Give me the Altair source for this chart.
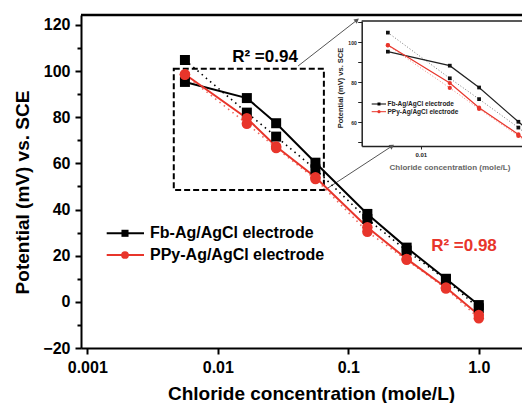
import altair as alt
import pandas as pd

# chloride concentration (mole/L) and measured potentials (mV vs. SCE)
conc = [0.0056, 0.0167, 0.028, 0.056, 0.14, 0.28, 0.56, 1.0]
fb_run1 = [95.3, 88.3, 77.4, 60.3, 38.1, 23.5, 10.0, -1.4]
fb_run2 = [104.8, 82.0, 71.6, 57.4, 35.9, 22.2, 9.6, -2.8]
ppy_run1 = [98.6, 79.6, 67.3, 54.0, 32.3, 18.6, 6.2, -5.7]
ppy_run2 = [98.4, 77.2, 66.7, 53.2, 30.4, 18.2, 5.8, -7.1]

electrodes = ["Fb-Ag/AgCl electrode", "PPy-Ag/AgCl electrode"]
r2_text = ["R\u00b2 =0.94", "R\u00b2 =0.98"]
r2_conc = [0.023, 0.77]
r2_pot = [106.0, 24.0]

x_ticks = [0.001, 0.01, 0.1, 1.0]
x_tick_labels = ["0.001", "0.01", "0.1", "1.0"]
y_ticks = list(range(-20, 121, 10))
inset_x_ticks = [0.01]
inset_y_ticks = list(range(50, 111, 10))

# zoomed region and the two arrows pointing at the inset (data units)
zoom_conc = [0.0046, 0.065]
zoom_pot = [48.5, 101.0]
arrow_from_conc = [0.0412, 0.0663]
arrow_from_pot = [102.2, 48.5]
arrow_to_conc = [0.1166, 0.2163]
arrow_to_pot = [122.1, 67.5]

FONT = "Liberation Sans"
BLACK = "#000000"
RED = "#e8352b"
W, H = 441, 333

x_main_scale = alt.Scale(type="log", domain=[0.000895, 2.143], nice=False)
y_main_scale = alt.Scale(domain=[-20, 124.3], nice=False, zero=False)
x_in_scale = alt.Scale(type="log", domain=[0.00353, 0.0597], range=[280.7, W], nice=False)
y_in_scale = alt.Scale(domain=[48.2, 110.6], range=[131, 6], nice=False, zero=False)

label_list = "[" + ",".join(f"'{t}'" for t in x_tick_labels) + "]"
x_main_axis = alt.Axis(
    orient="bottom", values=x_ticks, labelExpr=label_list + "[round(log(datum.value)/LN10)+3]",
    title="Chloride concentration (mole/L)", grid=False, domainWidth=2, domainColor=BLACK,
    tickColor=BLACK, tickWidth=2, tickSize=6, labelPadding=5, labelFont=FONT, labelFontSize=16,
    labelFontWeight="bold", labelColor=BLACK, labelFlush=False, labelOverlap=False,
    titleFont=FONT, titleFontSize=19, titleFontWeight="bold", titleColor=BLACK,
    titleX=230, titleY=51, titleAlign="center", titleBaseline="alphabetic",
)
y_main_axis = alt.Axis(
    orient="left", values=y_ticks, labelExpr="datum.value % 20 === 0 ? datum.label : ''",
    title="Potential (mV) vs. SCE", grid=False, domainWidth=2, domainColor=BLACK,
    tickColor=BLACK, tickWidth=2,
    tickSize={"condition": {"test": "datum.value % 20 === 0", "value": 6}, "value": 4},
    labelPadding=5, labelFont=FONT, labelFontSize=16, labelFontWeight="bold", labelColor=BLACK,
    labelOverlap=False, titleFont=FONT, titleFontSize=19, titleFontWeight="bold", titleColor=BLACK,
    titleX=-59, titleY=177, titleAngle=270, titleAlign="center", titleBaseline="middle",
)
x_in_axis = alt.Axis(
    orient="bottom", offset=-202, values=inset_x_ticks, format=".2f", grid=False,
    title="Chloride concentration (mole/L)", domainWidth=1.5, domainColor="#222",
    tickColor="#222", tickSize=3, labelPadding=2, labelFont=FONT, labelFontSize=6,
    labelFontWeight="bold", labelColor="#222", labelFlush=False,
    titleFont=FONT, titleFontSize=8, titleFontWeight="bold", titleColor="#666",
    titleX=308, titleY=21, titleAlign="left", titleBaseline="middle",
)
y_in_axis = alt.Axis(
    orient="left", offset=-280.7, values=inset_y_ticks,
    labelExpr="datum.value % 20 === 0 ? datum.label : ''", grid=False,
    title="Potential (mV) vs. SCE", domainWidth=1.5, domainColor="#222", tickColor="#222",
    tickSize=4, labelPadding=1.5, labelFont=FONT, labelFontSize=5, labelFontWeight="bold",
    labelColor="#222", labelOverlap=False, titleFont=FONT, titleFontSize=7.5, titleFontWeight="bold",
    titleColor="#222", titleX=-21.7, titleY=72.5, titleAngle=270, titleAlign="center",
    titleBaseline="middle",
)


def mx(field):
    return alt.X(field, type="quantitative", scale=x_main_scale, axis=x_main_axis)


def my(field):
    return alt.Y(field, type="quantitative", scale=y_main_scale, axis=y_main_axis)


def ix(field):
    return alt.X(field, type="quantitative", scale=x_in_scale, axis=x_in_axis)


def iy(field):
    return alt.Y(field, type="quantitative", scale=y_in_scale, axis=y_in_axis)


def series(values):
    return pd.DataFrame({"conc": conc, "pot": values})


def line(values, xf, yf, color, width, dash=None, clip=False):
    kw = dict(color=color, strokeWidth=width, clip=clip)
    if dash:
        kw["strokeDash"] = dash
    return alt.Chart(series(values)).mark_line(**kw).encode(x=xf("conc"), y=yf("pot"))


def dots(values, xf, yf, shape, color, size, clip=False):
    return alt.Chart(series(values)).mark_point(
        shape=shape, filled=True, size=size, color=color, opacity=1, clip=clip
    ).encode(x=xf("conc"), y=yf("pot"))


def legend_rows(xs, ys, font_size, line_w, sizes, text_color):
    layers = []
    for i, name in enumerate(electrodes):
        color = [BLACK, RED][i]
        shape = ["square", "circle"][i]
        d = pd.DataFrame({"t": [name]})
        layers.append(alt.Chart(d).mark_rule(color=color, strokeWidth=line_w).encode(
            x=alt.value(xs[0]), x2=alt.value(xs[1]), y=alt.value(ys[i])))
        layers.append(alt.Chart(d).mark_point(shape=shape, filled=True, size=sizes[i],
                                              color=color, opacity=1).encode(
            x=alt.value(xs[2]), y=alt.value(ys[i])))
        layers.append(alt.Chart(d).mark_text(
            font=FONT, fontSize=font_size, fontWeight="bold", color=text_color,
            align="left", baseline="middle").encode(
            x=alt.value(xs[3]), y=alt.value(ys[i]), text="t:N"))
    return layers


# ---------------- main panel ----------------
frame_top = alt.Chart(pd.DataFrame({"conc": [x_main_scale.domain[0]], "conc2": [x_main_scale.domain[1]],
                                    "pot": [y_main_scale.domain[1]]})).mark_rule(
    color=BLACK, strokeWidth=2.5).encode(x=mx("conc"), x2="conc2", y=my("pot"))

zoom_box = alt.Chart(pd.DataFrame({"conc": [zoom_conc[0]], "conc2": [zoom_conc[1]],
                                   "pot": [zoom_pot[0]], "pot2": [zoom_pot[1]]})).mark_rect(
    fillOpacity=0, stroke=BLACK, strokeWidth=2, strokeDash=[6, 3]).encode(
    x=mx("conc"), x2="conc2", y=my("pot"), y2="pot2")

arrows_df = pd.DataFrame({"conc": arrow_from_conc, "conc2": arrow_to_conc,
                          "pot": arrow_from_pot, "pot2": arrow_to_pot})
arrows = alt.Chart(arrows_df).mark_rule(color="#555", strokeWidth=1).encode(
    x=mx("conc"), x2="conc2", y=my("pot"), y2="pot2")
heads = []
for i, ang in enumerate([52, 57]):
    heads.append(alt.Chart(pd.DataFrame({"conc": [arrow_to_conc[i]], "pot": [arrow_to_pot[i]]})).mark_point(
        shape="triangle-up", filled=True, size=30, color="#555", opacity=1, angle=ang).encode(
        x=mx("conc"), y=my("pot")))

r2_layers = []
for i, t in enumerate(r2_text):
    r2_layers.append(alt.Chart(pd.DataFrame({"conc": [r2_conc[i]], "pot": [r2_pot[i]], "t": [t]})).mark_text(
        font=FONT, fontSize=17, fontWeight="bold", color=[BLACK, RED][i]).encode(
        x=mx("conc"), y=my("pot"), text="t:N"))

main = alt.layer(
    frame_top, zoom_box, arrows, *heads,
    line(fb_run2, mx, my, BLACK, 1.6, [1.5, 4]),
    line(ppy_run2, mx, my, "#ef6a5f", 1.6, [1.5, 4]),
    line(fb_run1, mx, my, BLACK, 2),
    line(ppy_run1, mx, my, RED, 2),
    dots(fb_run1, mx, my, "square", BLACK, 100),
    dots(fb_run2, mx, my, "square", BLACK, 100),
    dots(ppy_run1, mx, my, "circle", RED, 110),
    dots(ppy_run2, mx, my, "circle", RED, 110),
    *r2_layers,
    *legend_rows([25.7, 63, 44, 69], [218.3, 240], 16, 2, [50, 60], BLACK),
)

# ---------------- inset ----------------
inset_top = alt.Chart(pd.DataFrame({"conc": [x_in_scale.domain[0]], "conc2": [x_in_scale.domain[1]],
                                    "pot": [y_in_scale.domain[1]]})).mark_rule(
    color="#222", strokeWidth=1.5).encode(x=ix("conc"), x2="conc2", y=iy("pot"))

inset = alt.layer(
    inset_top,
    line(fb_run2, ix, iy, "#777", 1, [1, 2], clip=True),
    line(ppy_run2, ix, iy, "#f08a80", 1, [1, 2], clip=True),
    line(fb_run1, ix, iy, "#222", 1.2, clip=True),
    line(ppy_run1, ix, iy, RED, 1.2, clip=True),
    dots(fb_run1, ix, iy, "square", "#111", 14, clip=True),
    dots(fb_run2, ix, iy, "square", "#111", 14, clip=True),
    dots(ppy_run1, ix, iy, "circle", RED, 18, clip=True),
    dots(ppy_run2, ix, iy, "circle", RED, 18, clip=True),
    *legend_rows([290.7, 305, 298, 306.5], [89, 96.7], 6.5, 1, [9, 10], "#222"),
)

chart = alt.layer(main, inset).resolve_scale(x="independent", y="independent").properties(
    width=W, height=H,
    autosize=alt.AutoSizeParams(type="none"),
    padding={"left": 73, "top": 7, "right": 0, "bottom": 55},
).configure_view(stroke=None).configure(font=FONT)

chart.save("out.html", embed_options={"renderer": "svg", "actions": False})
